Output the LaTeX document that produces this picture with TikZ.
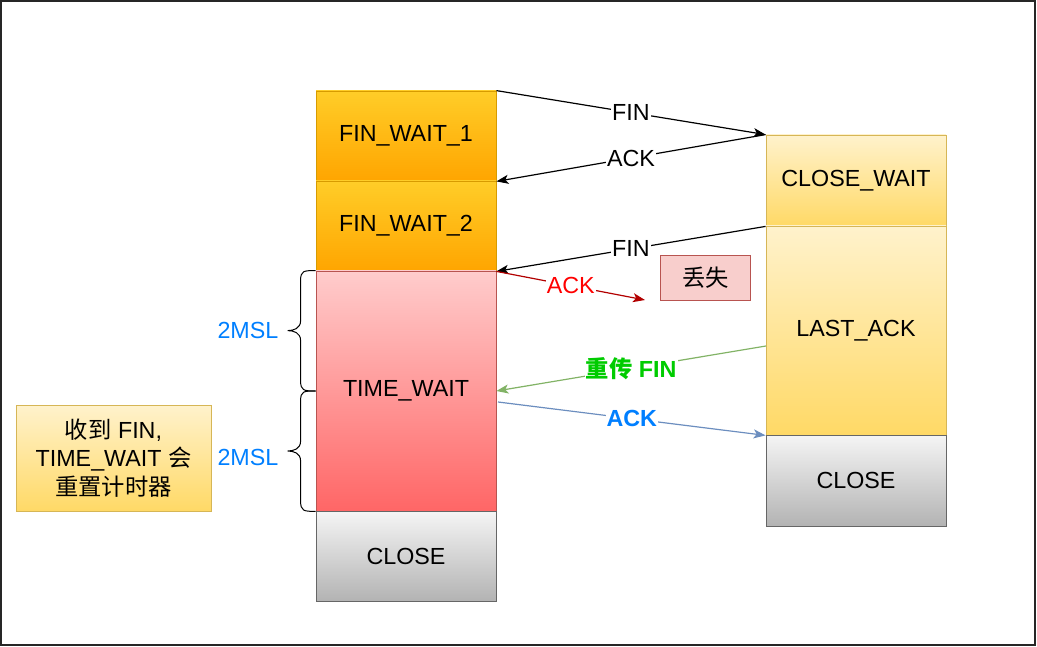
\documentclass[tikz,border=0pt]{standalone}
\usepackage{fontspec}
\setmainfont{Liberation Sans}
\newfontfamily\cjk{Noto Sans CJK SC}
\usetikzlibrary{arrows.meta,calc}
\definecolor{orA}{HTML}{FFCD28}
\definecolor{orB}{HTML}{FFA500}
\definecolor{orS}{HTML}{D79B00}
\definecolor{rdA}{HTML}{FFCCCC}
\definecolor{rdB}{HTML}{FF6666}
\definecolor{rdS}{HTML}{B85450}
\definecolor{gyA}{HTML}{F5F5F5}
\definecolor{gyB}{HTML}{B3B3B3}
\definecolor{gyS}{HTML}{666666}
\definecolor{ylA}{HTML}{FFF2CC}
\definecolor{ylB}{HTML}{FFD966}
\definecolor{ylS}{HTML}{D6B656}
\definecolor{lossF}{HTML}{F8CECC}
\definecolor{msl}{HTML}{007FFF}
\definecolor{ackred}{HTML}{B20000}
\definecolor{grnline}{HTML}{82B366}
\definecolor{grntext}{HTML}{00CC00}
\definecolor{blueline}{HTML}{6C8EBF}
\begin{document}
\begin{tikzpicture}[x=1pt,y=-1pt,
  every node/.style={font=\fontsize{23.3}{28.5}\selectfont, inner sep=0pt, align=center},
  statebox/.style={minimum width=180pt, line width=0.8pt},
  orbox/.style={statebox, draw=orS, top color=orA, bottom color=orB},
  rdbox/.style={statebox, draw=rdS, top color=rdA, bottom color=rdB},
  gybox/.style={statebox, draw=gyS, top color=gyA, bottom color=gyB},
  ylbox/.style={statebox, draw=ylS, top color=ylA, bottom color=ylB},
  msg/.style={line width=1.2pt, -{Stealth[length=12pt,width=9pt,inset=3pt]}},
  lbl/.style={fill=white, inner sep=1pt},
  bracestyle/.style={line width=1pt, black}
]
\useasboundingbox (0,0) rectangle (1037,647);
\draw[line width=1.6pt, black!85] (1,1) rectangle (1035,645);

% left column
\node[orbox, minimum height=90pt] (fw1) at (406,136) {FIN\_WAIT\_1};
\node[orbox, minimum height=90pt] (fw2) at (406,226) {FIN\_WAIT\_2};
\node[rdbox, minimum height=240pt] (tw) at (406,391) {TIME\_WAIT};
\node[gybox, minimum height=90pt] (cl1) at (406,556) {CLOSE};

% right column
\node[ylbox, minimum height=91pt] (cw) at (856,180.5) {CLOSE\_WAIT};
\node[ylbox, minimum height=209pt] (la) at (856,330.5) {LAST\_ACK};
\node[gybox, minimum height=91pt] (cl2) at (856,480.5) {CLOSE};

% lost box
\node[draw=rdS, fill=lossF, line width=0.8pt, minimum width=90pt, minimum height=45pt] (lost) at (705.5,278) {\cjk 丢失};

% note
\node[draw=ylS, top color=ylA, bottom color=ylB, line width=0.8pt, minimum width=195pt, minimum height=106pt] (note) at (113.5,458) {{\cjk 收到} FIN,\\TIME\_WAIT {\cjk 会}\\{\cjk 重置计时器}};

% braces
\draw[bracestyle] (tw.north west) .. controls ++(-12,0) and ++(0,-10) .. ++(-15,10) -- ++(0,40) .. controls ++(0,8) and ++(6,0) .. ++(-13,10) coordinate (b1tip) .. controls ++(6,0) and ++(0,-8) .. ++(13,10) -- ++(0,40) .. controls ++(0,10) and ++(-12,0) .. (tw.west);
\draw[bracestyle] (tw.west) .. controls ++(-12,0) and ++(0,-10) .. ++(-15,10) -- ++(0,40) .. controls ++(0,8) and ++(6,0) .. ++(-13,10) coordinate (b2tip) .. controls ++(6,0) and ++(0,-8) .. ++(13,10) -- ++(0,40) .. controls ++(0,10) and ++(-12,0) .. (tw.south west);
\node[text=msl, anchor=east] (m1) at ($(b1tip)+(-9,0)$) {2MSL};
\node[text=msl, anchor=east] (m2) at ($(b2tip)+(-9,6)$) {2MSL};

% messages
\draw[msg] (fw1.north east) -- node[lbl] {FIN} (cw.north west);
\draw[msg] (cw.north west) -- node[lbl] {ACK} (fw1.south east);
\draw[msg] (cw.south west) -- node[lbl] {FIN} (fw2.south east);
\coordinate (lostend) at (645,300);
\draw[msg, ackred] (fw2.south east) -- node[lbl, text=red] {ACK} (lostend);
\coordinate (refin) at (766,346);
\draw[msg, grnline] (refin) -- node[lbl, text=grntext, font=\fontsize{23.3}{28.5}\selectfont\bfseries] {{\cjk\bfseries 重传} FIN} (tw.east);
\coordinate (ackst) at (498,402);
\draw[msg, blueline] (ackst) -- node[lbl, text=msl, font=\fontsize{23.3}{28.5}\selectfont\bfseries] {ACK} (la.south west);
\end{tikzpicture}
\end{document}
